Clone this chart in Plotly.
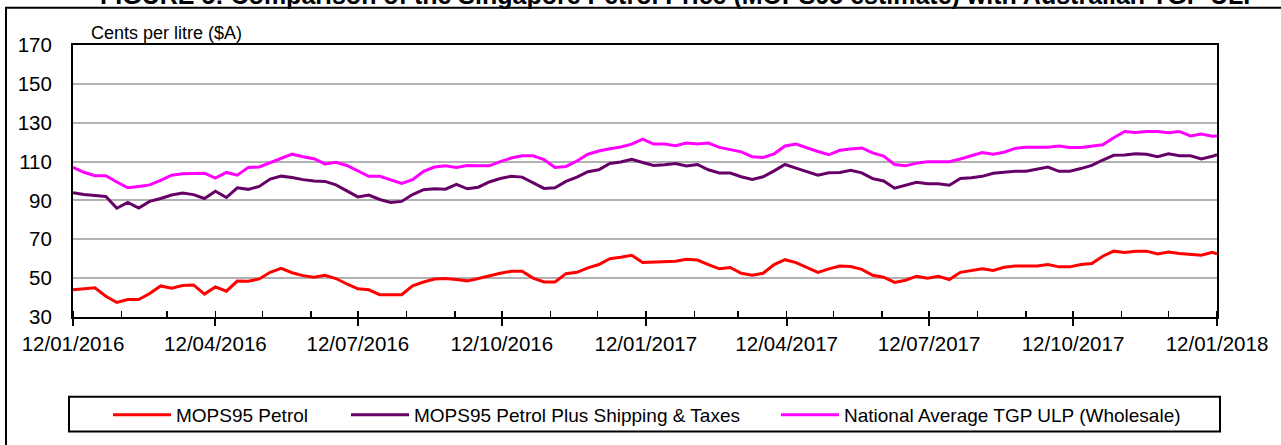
import pandas as pd
import plotly.graph_objects as go

# ---- data (weekly readings, cents per litre, $A) ----
start_date = "2016-01-12"
end_date = "2018-01-12"
dates = list(pd.date_range(start_date, periods=105, freq="7D").strftime("%Y-%m-%d")) + [end_date]

mops95_petrol = [
    44, 44.5, 45, 40.7, 37.5, 39, 39, 42.1, 46, 44.8, 46.2, 46.5, 41.8, 45.5, 43.3, 48.5,
    48.4, 49.6, 53, 55, 52.8, 51.3, 50.5, 51.5, 49.8, 47, 44.5, 44, 41.5, 41.5, 41.5, 46, 48,
    49.5, 49.8, 49.3, 48.6, 49.8, 51.3, 52.5, 53.5, 53.5, 50, 48, 48, 52.3, 53, 55.3, 57, 60,
    60.8, 61.8, 58, 58.3, 58.7, 58.7, 59.7, 59.3, 57, 54.8, 55.5, 52.5, 51.5, 52.5, 57, 59.5,
    58, 55.5, 53, 54.8, 56.2,
    56, 54.5, 51.5, 50.5, 47.8, 48.9, 51, 50, 51, 49.3, 53, 54, 54.8, 54, 55.6, 56.2, 56.2,
    56.2, 57, 55.8, 55.8, 57, 57.5, 61.3, 63.9, 63.2, 63.9, 63.9, 62.5, 63.5, 62.7, 62.2, 61.8,
    63.3, 62.5,
]

mops95_plus_shipping = [
    94, 93, 92.5, 92, 86, 89, 86.1, 89.5, 91, 92.8, 93.8, 93, 91, 94.7, 91.5, 96.5, 95.7,
    97.2, 101, 102.5, 101.8, 100.7, 100, 99.8, 98, 95, 91.8, 92.8, 90.5, 89, 89.5, 93, 95.5,
    96, 95.8, 98.3, 96, 96.8, 99.5, 101.3, 102.4, 102, 99, 96.2, 96.5, 99.8, 102, 104.8, 105.8,
    109, 109.8, 111.2, 109.5, 108, 108.4, 109, 107.7, 108.5, 105.8, 104.1, 104.1, 102.2, 100.8,
    102.2, 105.2, 108.5, 106.6, 105, 103, 104.2, 104.4,
    105.5, 104.2, 101.2, 100, 96.3, 98, 99.3, 98.6, 98.6, 97.8, 101.3, 101.7, 102.4, 104, 104.5,
    105, 105, 106, 107.2, 105, 105, 106.4, 108, 110.8, 113.2, 113.4, 114, 113.8, 112.5, 114,
    113, 113, 111.3, 112.7, 113.6,
]

tgp_ulp = [
    107, 104.5, 102.7, 102.7, 99.5, 96.5, 97.2, 98, 100.3, 103, 103.7, 103.7, 104, 101.5, 104.4,
    103, 107, 107.2, 109.5, 111.5, 113.8, 112.5, 111.5, 108.8, 109.6, 108, 105, 102.4, 102.4,
    100.5, 98.8, 100.7, 105,
    107.2, 107.8, 107, 108, 107.8, 107.8, 110, 111.8, 113, 113, 111, 107, 107.5, 110.3, 113.8,
    115.4, 116.6, 117.5, 119, 121.5, 119, 119, 118.2, 119.5, 119, 119.5, 117.3, 116, 115, 112.5,
    112.1, 114, 118, 119, 117, 115.2, 113.5, 115.8,
    116.5, 117, 114.5, 112.8, 108.5, 107.8, 109.2, 109.9, 109.9, 109.9, 111.3, 113.2, 114.7,
    113.8, 114.8, 116.8, 117.4, 117.4, 117.4, 118, 117.3, 117.3, 118, 118.6, 122.3, 125.5, 125,
    125.5, 125.5, 124.8, 125.5, 123.2, 124.2, 123, 123.2,
]

series_names = [
    "MOPS95 Petrol",
    "MOPS95 Petrol Plus Shipping & Taxes",
    "National Average TGP ULP (Wholesale)",
]
series_values = [mops95_petrol, mops95_plus_shipping, tgp_ulp]
series_colors = ["#FF0000", "#660066", "#FF00FF"]
legend_ids = ["legend", "legend2", "legend3"]

y_title = "Cents per litre ($A)"
chart_title = ("FIGURE 5: Comparison of the Singapore Petrol Price (MOPS95 estimate) "
               "with Australian TGP ULP")

# ---- layout geometry (page pixels; body margin removed below) ----
W, H = 1281, 445
L, R, T, B = 73, 64, 45, 127
PLOT_X0, PLOT_X1 = 73, 1217
PLOT_Y0, PLOT_Y1 = 45, 318


def px(x):
    return (x - PLOT_X0) / (PLOT_X1 - PLOT_X0)


def py(y):
    return (PLOT_Y1 - y) / (PLOT_Y1 - PLOT_Y0)


FONT = "Arial, Liberation Sans, sans-serif"

fig = go.Figure()
for name, vals, col, leg in zip(series_names, series_values, series_colors, legend_ids):
    fig.add_trace(go.Scatter(x=dates, y=vals, mode="lines", name=name,
                             line=dict(color=col, width=3), legend=leg))

legend_common = dict(orientation="h", yanchor="middle", y=py(415), xanchor="left",
                     font=dict(family=FONT, size=19, color="black"),
                     bgcolor="rgba(0,0,0,0)", borderwidth=0, itemwidth=58)

fig.update_layout(
    width=W, height=H, autosize=False,
    margin=dict(l=L, r=R, t=T, b=B, pad=0),
    paper_bgcolor="white", plot_bgcolor="white",
    font=dict(family=FONT, color="black"),
    showlegend=True,
    legend=dict(x=px(108), **legend_common),
    legend2=dict(x=px(346), **legend_common),
    legend3=dict(x=px(776), **legend_common),
    xaxis=dict(
        type="date", range=[start_date, end_date],
        tick0=start_date, dtick="M3", tickformat="%d/%m/%Y",
        ticks="outside", ticklen=7, tickwidth=2, tickcolor="black",
        showline=True, linecolor="black", linewidth=2, mirror=True,
        showgrid=False, zeroline=False,
        tickfont=dict(family=FONT, size=20.5, color="black"),
        minor=dict(tick0=start_date, dtick="M1", ticks="inside", ticklen=6,
                   tickwidth=1.5, tickcolor="black", showgrid=False),
    ),
    yaxis=dict(
        range=[30, 170], tick0=30, dtick=20,
        showgrid=True, gridcolor="#b2b2b2", gridwidth=2,
        showline=True, linecolor="black", linewidth=2, mirror=True,
        zeroline=False, ticks="", ticklabelstandoff=15,
        tickfont=dict(family=FONT, size=20.5, color="black"),
    ),
    shapes=[
        dict(type="rect", xref="paper", yref="paper",
             x0=px(6), x1=px(1340), y0=py(7.5), y1=py(500),
             line=dict(color="black", width=2), fillcolor="rgba(0,0,0,0)"),
        dict(type="rect", xref="paper", yref="paper",
             x0=px(69), x1=px(1220), y0=py(398), y1=py(433),
             line=dict(color="black", width=2), fillcolor="rgba(0,0,0,0)"),
    ],
    annotations=[
        dict(text=y_title, xref="paper", yref="paper", x=px(89), y=py(33),
             xanchor="left", yanchor="middle", showarrow=False,
             font=dict(family=FONT, size=18, color="black")),
        dict(text="<b>" + chart_title + "</b>", xref="paper", yref="paper",
             x=px(680), y=py(11), xanchor="center", yanchor="bottom", showarrow=False,
             font=dict(family=FONT, size=25, color="black")),
    ],
)

fig.write_html(
    "out.html",
    config={"displayModeBar": False, "staticPlot": True},
    post_script="document.body.style.margin='0px';document.body.style.overflow='hidden';",
)
